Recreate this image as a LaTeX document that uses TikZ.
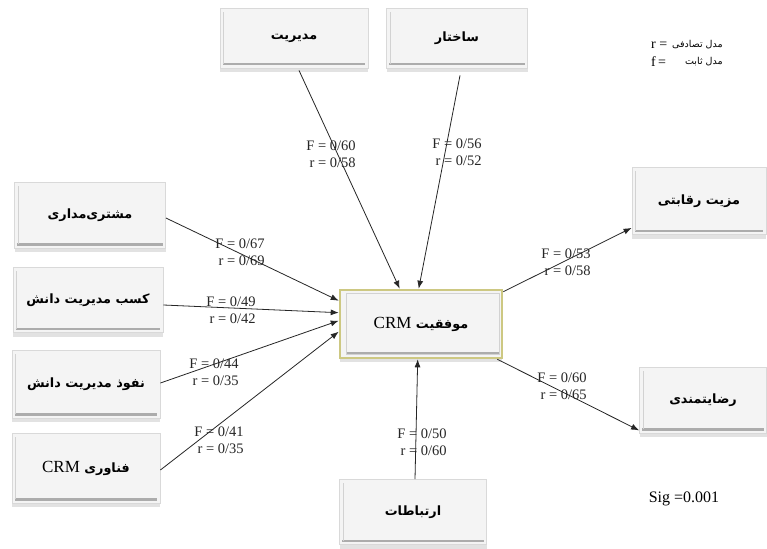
\documentclass[tikz,border=0pt]{standalone}
\usepackage{fontspec}
\setmainfont{Liberation Serif}
\newfontfamily\fafont[Script=Arabic]{DejaVu Sans}
\TeXXeTstate=1
\usetikzlibrary{arrows.meta,shadows}
\definecolor{crmedge}{RGB}{205,200,130}
\definecolor{boxfill}{RGB}{244,244,244}
\newcommand\fa[1]{{\fafont\bfseries\fontsize{12.8}{15}\selectfont\beginR #1\endR}}
\newcommand\lat[1]{\beginL{\rmfamily\mdseries\fontsize{17}{19}\selectfont #1}\endL}
\newcommand\pbox[6]{%
  \node[pbox, minimum width=#4pt, minimum height=#5pt] (#1) at (#2,#3) {#6};
  \draw[bottomline] ([xshift=3pt,yshift=4pt]#1.south west) -- ([xshift=-3pt,yshift=4pt]#1.south east);
  \draw[sideline] ([xshift=4pt,yshift=4pt]#1.south west) -- ([xshift=4pt,yshift=-4pt]#1.north west);
}
\tikzset{
  pbox/.style={draw=gray!30, fill=boxfill, line width=0.8pt, inner sep=0pt,
    drop shadow={shadow xshift=0pt, shadow yshift=-4pt, fill=gray!45, opacity=0.5}},
  bottomline/.style={draw=gray!65, line width=2.2pt},
  sideline/.style={draw=gray!35, line width=1pt},
  conn/.style={draw=black!85, line width=0.8pt, -{Latex[length=8pt,width=6pt]}},
  lab/.style={align=right, inner sep=0pt, font=\fontsize{14.5}{16.5}\selectfont, text=black!85},
}
\begin{document}
\begin{tikzpicture}[x=1pt,y=-1pt]
\useasboundingbox (0,0) rectangle (767,548);
\fill[white] (0,0) rectangle (767,548);

% boxes
\pbox{mod}{294}{38}{148}{60}{\fa{مدیریت}}
\pbox{sakh}{457}{38}{141}{60}{\fa{ساختار}}
\pbox{mosh}{90}{215}{151}{66}{\fa{مشتری‌مداری}}
\pbox{kasb}{88}{300}{150}{65}{\fa{کسب مدیریت دانش}}
\pbox{nofuz}{86}{384}{148}{68}{\fa{نفوذ مدیریت دانش}}
\pbox{fan}{86}{468}{148}{70}{\fa{فناوری \lat{CRM}}}
\pbox{mazit}{699}{201}{134}{67}{\fa{مزیت رقابتی}}
\pbox{reza}{703}{400}{127}{66}{\fa{رضایتمندی}}
\pbox{ert}{413}{512}{147}{65}{\fa{ارتباطات}}

% central box
\node[pbox, draw=crmedge, line width=2.6pt, minimum width=162pt, minimum height=68pt] (crm) at (421,324) {\fa{موفقیت \lat{CRM}}};
\draw[gray!35, line width=0.8pt] ([xshift=8pt,yshift=5pt]crm.south west) rectangle ([xshift=-4pt,yshift=-5pt]crm.north east);
\draw[bottomline] ([xshift=8pt,yshift=6pt]crm.south west) -- ([xshift=-4pt,yshift=6pt]crm.south east);

% connectors
\draw[conn] ([xshift=5pt,yshift=-2pt]mod.south) -- ([xshift=61pt]crm.north west);
\draw[conn] ([xshift=3pt,yshift=-7pt]sakh.south) -- ([xshift=80pt]crm.north west);
\draw[conn] ([yshift=-3pt]mosh.east) -- ([yshift=-12pt]crm.north west);
\draw[conn] ([yshift=-5pt]kasb.east) -- ([yshift=-24pt]crm.north west);
\draw[conn] ([yshift=1pt]nofuz.east) -- ([yshift=-32pt]crm.north west);
\draw[conn] ([yshift=-2pt]fan.east) -- ([yshift=-43pt]crm.north west);
\draw[conn] ([xshift=2pt]ert.north) -- ([xshift=79pt]crm.south west);
\draw[conn] ([yshift=-3pt]crm.north east) -- ([yshift=7pt]mazit.south west);
\draw[conn] ([xshift=-6pt]crm.south east) -- ([yshift=3pt]reza.south west);

% labels
\node[lab] (l1) at (331,154) {F = 0/60\\r = 0/58};
\node[lab] (l2) at (457,152) {F = 0/56\\r = 0/52};
\node[lab] (l3) at (240,252) {F = 0/67\\r = 0/69};
\node[lab] (l4) at (231,310) {F = 0/49\\r = 0/42};
\node[lab] (l5) at (214,372) {F = 0/44\\r = 0/35};
\node[lab] (l6) at (219,440) {F = 0/41\\r = 0/35};
\node[lab] (l7) at (566,262) {F = 0/53\\r = 0/58};
\node[lab] (l8) at (562,386) {F = 0/60\\r = 0/65};
\node[lab] (l9) at (422,442) {F = 0/50\\r = 0/60};

% legend
\node[anchor=west, inner sep=0pt, font=\fontsize{14}{16}\selectfont] (lr) at (651,45) {r =};
\node[anchor=west, inner sep=0pt] (lrt) at (672,45) {{\fafont\fontsize{9.5}{11}\selectfont\beginR مدل تصادفی\endR}};
\node[anchor=west, inner sep=0pt, font=\fontsize{14}{16}\selectfont] (lf) at (651,62) {f\,=};
\node[anchor=east, inner sep=0pt] (lft) at (lrt.east |- 0,62) {{\fafont\fontsize{9.5}{11}\selectfont\beginR مدل ثابت\endR}};

\node[inner sep=0pt, font=\fontsize{16}{18}\selectfont] (sig) at (684,499) {Sig =0.001};
\end{tikzpicture}
\end{document}
